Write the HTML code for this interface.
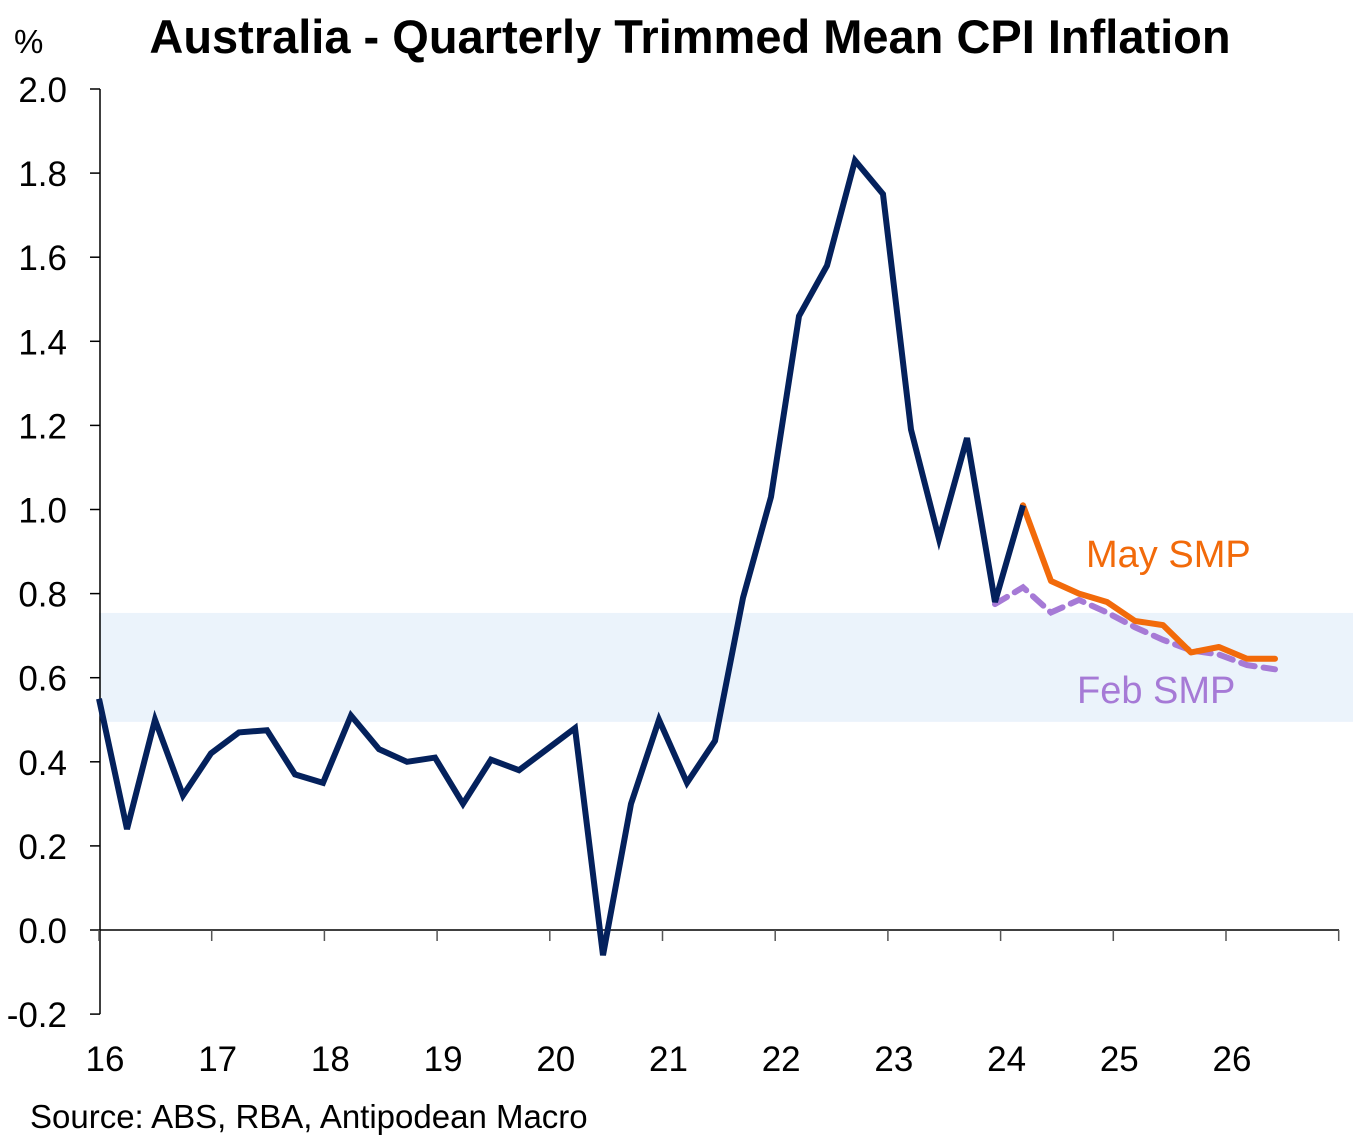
<!DOCTYPE html>
<html><head><meta charset="utf-8"><style>
html,body{margin:0;padding:0;background:#fff;}
svg{display:block;font-family:"Liberation Sans",Arial,sans-serif;}
</style></head><body>
<svg id="chart" width="1353" height="1140" viewBox="0 0 1353 1140" xmlns="http://www.w3.org/2000/svg">
<text x="690" y="53" text-anchor="middle" font-size="47" font-weight="bold" fill="#000">Australia - Quarterly Trimmed Mean CPI Inflation</text>
<text x="14" y="53" font-size="33" fill="#000">%</text>
<text x="30" y="1128" font-size="33" fill="#000">Source: ABS, RBA, Antipodean Macro</text>
<g id="plot"></g>
</svg>
<script>
const yTicks = [-0.2,0,0.2,0.4,0.6,0.8,1.0,1.2,1.4,1.6,1.8,2.0];
const xTickLabels = ["16","17","18","19","20","21","22","23","24","25","26"];
const actual = [0.55,0.24,0.50,0.32,0.42,0.47,0.475,0.37,0.35,0.51,0.43,0.40,0.41,0.30,0.405,0.38,0.43,0.48,-0.06,0.30,0.50,0.35,0.45,0.79,1.03,1.46,1.58,1.83,1.75,1.19,0.93,1.17,0.78,1.01];
const mayStart = 33;
const maySMP = [1.01,0.83,0.80,0.78,0.735,0.725,0.66,0.673,0.645,0.645];
const febStart = 32;
const febSMP = [0.775,0.815,0.755,0.785,0.755,0.72,0.69,0.665,0.655,0.63,0.62];
const bandRange = [0.495,0.754];

const NS="http://www.w3.org/2000/svg";
const g=document.getElementById('plot');
const yPix=v=>930-v*420.5;
const xQ=i=>99+i*28.0;
const xYear=k=>99+k*112.7;
function mk(t,a){const e=document.createElementNS(NS,t);for(const k in a)e.setAttribute(k,a[k]);g.appendChild(e);return e;}

const band=mk('rect',{x:99,y:yPix(bandRange[1]),width:1254,height:yPix(bandRange[0])-yPix(bandRange[1]),fill:'#ebf3fb'});



const yax=mk('line',{x1:100,y1:yPix(2.0),x2:100,y2:yPix(-0.2),stroke:'#000','stroke-width':1.5});


yTicks.forEach(v=>{
  const t=mk('line',{x1:90,y1:yPix(v),x2:100,y2:yPix(v),stroke:'#000','stroke-width':1.5});
  
  
  const l=mk('text',{x:67,y:yPix(v)+13,'text-anchor':'end','font-size':35,fill:'#000'});
  l.textContent=v.toFixed(1);
  
  
});
const xax=mk('line',{x1:100,y1:yPix(0),x2:1339,y2:yPix(0),stroke:'#000','stroke-width':1.5});


for(let k=0;k<=11;k++){
  const t=mk('line',{x1:xYear(k),y1:yPix(0),x2:xYear(k),y2:yPix(0)+11,stroke:'#555','stroke-width':1.5});
  
  
}
xTickLabels.forEach((s,k)=>{
  const l=mk('text',{x:xYear(k)+6,y:1071,'text-anchor':'middle','font-size':35,fill:'#000'});
  l.textContent=s;
  
  
});
function pts(arr,start){return arr.map((v,i)=>xQ(start+i)+','+yPix(v)).join(' ');}
const feb=mk('polyline',{points:pts(febSMP,febStart),fill:'none',stroke:'#a67ad6','stroke-width':6,'stroke-dasharray':'14,9','stroke-linecap':'round'});


const may=mk('polyline',{points:pts(maySMP,mayStart),fill:'none',stroke:'#f26a0a','stroke-width':6,'stroke-linejoin':'round','stroke-linecap':'round'});


const act=mk('polyline',{points:pts(actual,0),fill:'none',stroke:'#04215c','stroke-width':6,'stroke-linejoin':'miter'});


const ml=mk('text',{x:1086,y:567,'font-size':38,fill:'#f26a0a'});
ml.textContent='May SMP';


const fl=mk('text',{x:1077,y:703,'font-size':38,fill:'#a67ad6'});
fl.textContent='Feb SMP';


</script>
</body></html>
